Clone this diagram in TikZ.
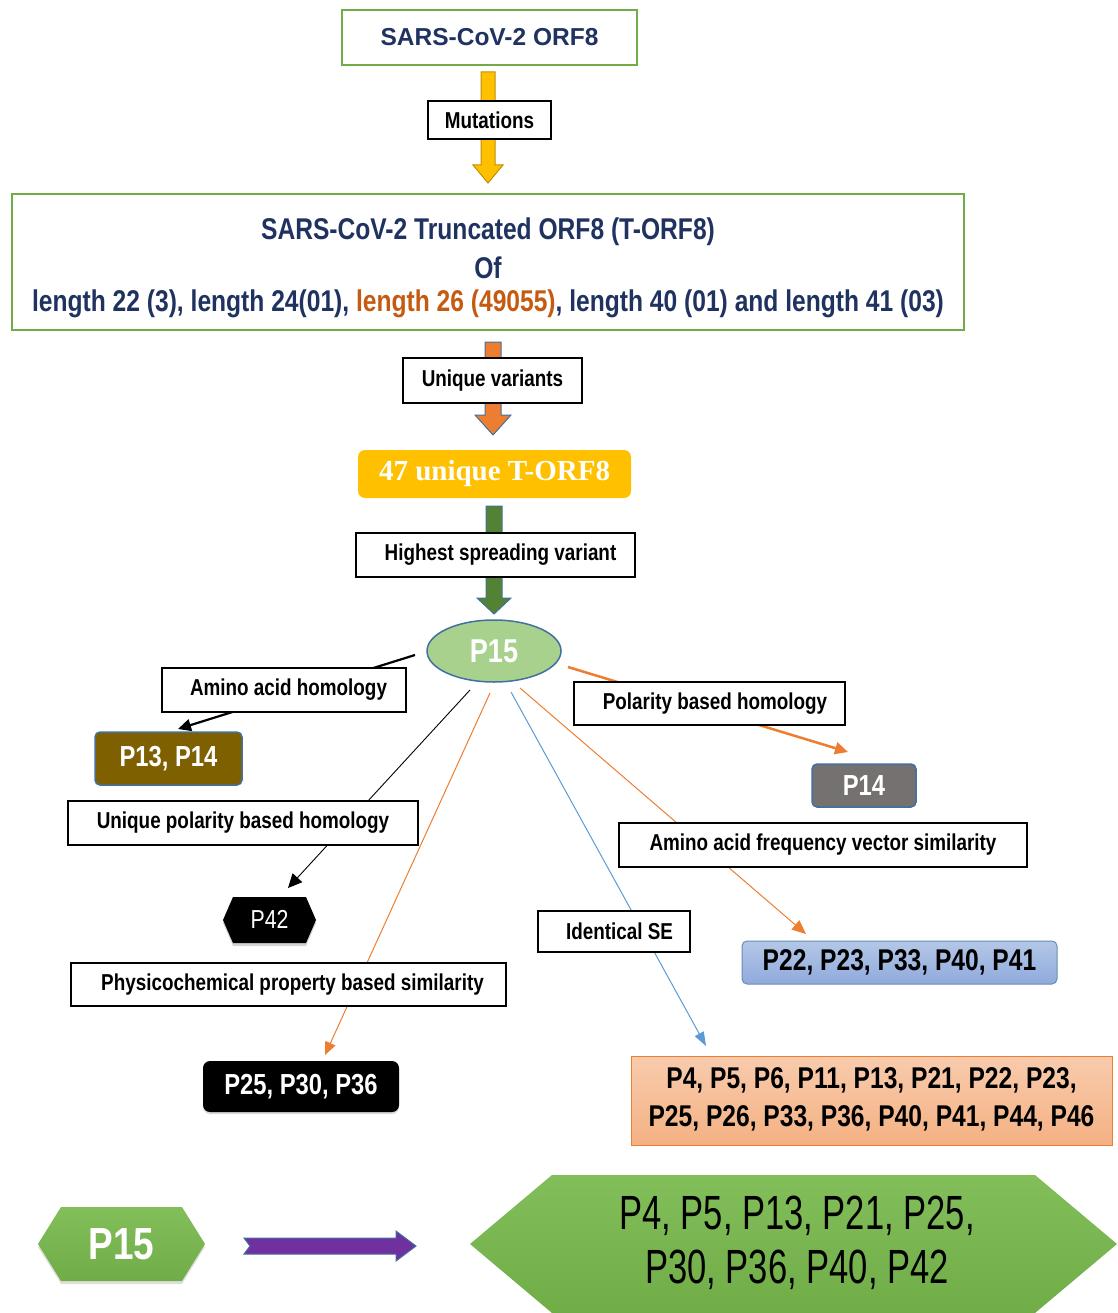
\documentclass[tikz,border=0pt]{standalone}
\usepackage{fontspec}
\setmainfont{Liberation Sans}
\newfontfamily\nar{Liberation Sans}[FakeStretch=0.82]
\newfontfamily\narw{Liberation Sans}[FakeStretch=0.72]
\newfontfamily\serf{Liberation Serif}
\usetikzlibrary{arrows.meta,calc,shapes.geometric,shadows}
\definecolor{grnb}{RGB}{112,173,71}
\definecolor{navy}{RGB}{31,50,96}
\definecolor{orangeT}{RGB}{197,90,17}
\definecolor{yel}{RGB}{255,192,0}
\definecolor{yeld}{RGB}{191,144,0}
\definecolor{oran}{RGB}{237,125,49}
\definecolor{dgreen}{RGB}{84,130,53}
\definecolor{blueb}{RGB}{65,113,156}
\definecolor{lgreen}{RGB}{169,209,142}
\definecolor{olive}{RGB}{127,96,0}
\definecolor{grayb}{RGB}{118,113,113}
\definecolor{lblue}{RGB}{143,170,220}
\definecolor{lbluet}{RGB}{180,199,231}
\definecolor{salm}{RGB}{244,177,131}
\definecolor{salmt}{RGB}{248,203,173}
\definecolor{lineblue}{RGB}{91,155,213}
\definecolor{purp}{RGB}{112,48,160}
\definecolor{hexg}{RGB}{112,173,71}
\definecolor{hexgt}{RGB}{130,190,90}
\newcommand\vblock[6]{\draw[#6] ($(#1)+(-#3,0)$) -- ($(#2)+(-#3,-#5)$) -- ($(#2)+(-#4,-#5)$) -- (#2) -- ($(#2)+(#4,-#5)$) -- ($(#2)+(#3,-#5)$) -- ($(#1)+(#3,0)$) -- cycle;}
\begin{document}
\begin{tikzpicture}[x=1pt,y=-1pt,
  lbl/.style={draw=black,line width=1.8pt,fill=white,inner sep=0pt,outer sep=0pt,
    font=\nar\bfseries\fontsize{23}{27}\selectfont},
  gbox/.style={draw=grnb,line width=2pt,fill=white,inner sep=0pt,outer sep=0pt},
  pbox/.style={inner sep=0pt,outer sep=0pt,text=white,rounded corners=5pt,
    font=\nar\bfseries\fontsize{29}{33}\selectfont},
  conn/.style={-{Triangle[length=13pt,width=12pt]}},
]
\useasboundingbox (0,0) rectangle (1117,1313);

% ---------- block arrows ----------
\coordinate (ya1) at (488,72);  \coordinate (ya2) at (488,183);
\coordinate (oa1) at (493,342); \coordinate (oa2) at (493,435);
\coordinate (ga1) at (494,506); \coordinate (ga2) at (494,614);
\vblock{ya1}{ya2}{7}{15}{18}{fill=yel,draw=yeld,line width=1pt}
\vblock{oa1}{oa2}{8}{18}{20}{fill=oran,draw=blueb,line width=1pt}
\vblock{ga1}{ga2}{8}{17}{16}{fill=dgreen,draw=blueb,line width=1pt}

% ---------- top ----------
\node[gbox,minimum width=295pt,minimum height=55pt,text=navy,
  font=\bfseries\fontsize{24.5}{28}\selectfont] (orf8) at (489.5,37.5) {SARS-CoV-2 ORF8};
\node[lbl,minimum width=123pt,minimum height=38pt] (mut) at (489.5,120) {Mutations};

\node[gbox,minimum width=952pt,minimum height=136pt] (trunc) at (488,262) {};
\begin{scope}[every node/.style={inner sep=0pt,text=navy,font=\nar\bfseries\fontsize{30}{34}\selectfont}]
\node (tl1) at (488,232) {SARS-CoV-2 Truncated ORF8 (T-ORF8)};
\node (tl2) at (488,268) {Of};
\node (tl3) at (488,304) {length 22 (3), length 24(01), \textcolor{orangeT}{length 26 (49055)}, length 40 (01) and length 41 (03)};
\end{scope}

\node[lbl,minimum width=179pt,minimum height=45pt] (uniq) at (492.5,380.5) {Unique variants};
\node[fill=yel,rounded corners=7pt,minimum width=273pt,minimum height=48pt,inner sep=0pt,
  text=white,font=\serf\bfseries\fontsize{29}{32}\selectfont] (t47) at (494.5,474) {47 unique T-ORF8};
\node[lbl,minimum width=279pt,minimum height=44pt] (high) at (495.5,555) {\hspace{10pt}Highest spreading variant};

\node[ellipse,draw=blueb,line width=1.5pt,fill=lgreen,minimum width=134pt,minimum height=62pt,
  inner sep=0pt,text=white,font=\nar\bfseries\fontsize{33}{36}\selectfont] (p15) at (494,651) {P15};

% ---------- connectors from P15 ----------
\coordinate (s1) at (415,655);  \coordinate (e1) at (178,729);
\coordinate (s2) at (470,690);  \coordinate (e2) at (288,888);
\coordinate (s3) at (490,693);  \coordinate (e3) at (325,1055);
\coordinate (s4) at (511,692);  \coordinate (e4) at (706,1046);
\coordinate (s5) at (568,667);  \coordinate (e5) at (848,752);
\coordinate (s6) at (520,688);  \coordinate (e6) at (806,934);
\draw[conn,line width=2.2pt,black] (s1) -- (e1);
\draw[-{Triangle[length=14pt,width=13pt]},line width=0.9pt,black] (s2) -- (e2);
\draw[-{Triangle[length=13pt,width=11pt]},line width=1pt,oran] (s3) -- (e3);
\draw[-{Triangle[length=14pt,width=10pt]},line width=1pt,lineblue] (s4) -- (e4);
\draw[-{Triangle[length=13pt,width=12pt]},line width=2.5pt,oran] (s5) -- (e5);
\draw[-{Triangle[length=14pt,width=12pt]},line width=1pt,oran] (s6) -- (e6);

% ---------- labels and results ----------
\node[lbl,minimum width=244pt,minimum height=44pt] (aah) at (284,690) {\hspace{9pt}Amino acid homology};
\node[pbox,fill=olive,draw=blueb,line width=1.5pt,minimum width=147pt,minimum height=53pt] (p1314) at (168.5,758.5) {P13, P14};

\node[lbl,minimum width=350pt,minimum height=44pt] (upbh) at (243,823) {Unique polarity based homology};
\fill[black,drop shadow={shadow xshift=0pt,shadow yshift=-3pt,opacity=0.35}]
  (223,920) -- (233,897) -- (306,897) -- (316,920) -- (306,943) -- (233,943) -- cycle;
\node[inner sep=0pt,text=white,font=\nar\fontsize{26}{30}\selectfont] (p42) at (269.5,919) {P42};

\node[lbl,minimum width=435pt,minimum height=43pt] (pcps) at (288.5,984.5) {\hspace{8pt}Physicochemical property based similarity};
\node[pbox,fill=black,rounded corners=7pt,minimum width=196pt,minimum height=51pt,
  drop shadow={shadow xshift=0pt,shadow yshift=-2pt,opacity=0.3}] (p253036) at (301,1086.5) {P25, P30, P36};

\node[lbl,minimum width=152pt,minimum height=41pt] (ise) at (614,931.5) {\hspace{11pt}Identical SE};
\node[inner sep=0pt,outer sep=0pt,top color=salmt,bottom color=salm,draw=oran,line width=0.8pt,
  minimum width=481pt,minimum height=89pt] (salmbox) at (871.5,1100.5) {};
\begin{scope}[every node/.style={inner sep=0pt,text=black,font=\nar\bfseries\fontsize{30}{34}\selectfont}]
\node (sl1) at (871.5,1080) {P4, P5, P6, P11, P13, P21, P22, P23,};
\node (sl2) at (871.5,1118) {P25, P26, P33, P36, P40, P41, P44, P46};
\end{scope}

\node[lbl,minimum width=271pt,minimum height=43pt] (pbh) at (709.5,703.5) {\hspace{11pt}Polarity based homology};
\node[pbox,fill=grayb,draw=blueb,line width=1.5pt,minimum width=104pt,minimum height=43pt] (p14) at (864,785.5) {P14};

\node[lbl,minimum width=408pt,minimum height=44pt] (aafv) at (823,845) {Amino acid frequency vector similarity};
\node[pbox,top color=lbluet,bottom color=lblue,draw=blueb!80,line width=1pt,text=black,
  minimum width=315pt,minimum height=43pt,font=\nar\bfseries\fontsize{30}{34}\selectfont] (p22) at (899.5,962.5) {P22, P23, P33, P40, P41};

% ---------- bottom row ----------
\shade[top color=hexgt,bottom color=hexg,drop shadow={shadow xshift=0pt,shadow yshift=-3pt,opacity=0.25}]
  (38,1244) -- (61,1207) -- (182,1207) -- (205,1244) -- (182,1281) -- (61,1281) -- cycle;
\node[inner sep=0pt,text=white,font=\nar\bfseries\fontsize{45}{50}\selectfont] (hp15) at (121.5,1244) {P15};

\coordinate (pa1) at (244,1246); \coordinate (pa2) at (416,1246);
\draw[fill=purp,draw=blueb,line width=1pt]
  ($(pa1)+(0,-8)$) -- ($(pa2)+(-20,-8)$) -- ($(pa2)+(-20,-15)$) -- (pa2) -- ($(pa2)+(-20,15)$)
  -- ($(pa2)+(-20,8)$) -- ($(pa1)+(0,8)$) -- ($(pa1)+(6,0)$) -- cycle;

\shade[top color=hexgt,bottom color=hexg]
  (470,1244) -- (552,1175) -- (1035,1175) -- (1117,1244) -- (1035,1313) -- (552,1313) -- cycle;
\begin{scope}[every node/.style={inner sep=0pt,text=black,font=\narw\fontsize{48}{52}\selectfont}]
\node (bh1) at (797,1216) {P4, P5, P13, P21, P25,};
\node (bh2) at (797,1270) {P30, P36, P40, P42};
\end{scope}
\end{tikzpicture}
\end{document}
